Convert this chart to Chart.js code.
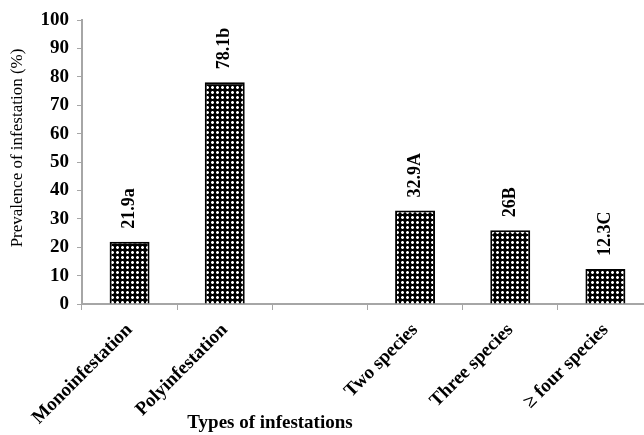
<!DOCTYPE html>
<html>
<head>
<meta charset="utf-8">
<script src="https://cdn.jsdelivr.net/npm/chart.js@4.4.1/dist/chart.umd.min.js"></script>
<style>
  html, body { margin: 0; padding: 0; background: #fff; overflow: hidden; }
  #wrap { width: 655px; height: 435px; }
</style>
</head>
<body>
<div id="wrap"><canvas id="infestation-chart" width="655" height="435"></canvas></div>
<script>
const categories = ['Monoinfestation', 'Polyinfestation', '', 'Two species', 'Three species', '\u2265 four species'];
const prevalence = [21.9, 78.1, null, 32.9, 26, 12.3];
const letters = ['a', 'b', '', 'A', 'B', 'C'];
const yTicks = [0, 10, 20, 30, 40, 50, 60, 70, 80, 90, 100];

const serif = '"Liberation Serif", "Times New Roman", serif';
const axisGrey = '#a6a6a6';

// dotted fill like the excel pattern
function makeDots() {
    const tile = document.createElement('canvas');
    tile.width = 5;
    tile.height = 5;
    const t = tile.getContext('2d');
    t.fillStyle = '#000';
    t.fillRect(0, 0, 5, 5);
    t.fillStyle = '#fff';
    t.fillRect(1, 1, 3, 3);
    t.fillStyle = '#777';
    t.fillRect(1, 1, 1, 1);
    t.fillRect(3, 1, 1, 1);
    t.fillRect(1, 3, 1, 1);
    t.fillRect(3, 3, 1, 1);
    return t.createPattern(tile, 'repeat');
}

const ctx = document.getElementById('infestation-chart');
const dots = makeDots();

const barLabels = {
    id: 'barLabels',
    afterDatasetsDraw(chart) {
        const c = chart.ctx;
        const meta = chart.getDatasetMeta(0);
        c.save();
        c.fillStyle = '#000';
        c.font = 'bold 18px ' + serif;
        c.textAlign = 'left';
        c.textBaseline = 'middle';
        meta.data.forEach((bar, i) => {
            if (prevalence[i] == null) return;
            c.save();
            c.translate(bar.x, bar.y - 13);
            c.rotate(-Math.PI / 2);
            c.fillText(prevalence[i] + letters[i], 0, 0);
            c.restore();
        });
        c.restore();
    }
};

const titles = {
    id: 'titles',
    afterDraw(chart) {
        const c = chart.ctx;
        c.save();
        c.fillStyle = '#000';
        c.textAlign = 'center';
        c.textBaseline = 'middle';
        c.font = 'bold 19px ' + serif;
        c.fillText('Types of infestations', 270, 423);
        c.translate(18, 148);
        c.rotate(-Math.PI / 2);
        c.font = '17px ' + serif;
        c.fillText('Prevalence of infestation (%)', 0, 0);
        c.restore();
    }
};

new Chart(ctx, {
    type: 'bar',
    data: {
        labels: categories,
        datasets: [{
            label: 'Prevalence',
            data: prevalence,
            backgroundColor: dots,
            borderColor: '#000',
            borderWidth: 2,
            categoryPercentage: 1,
            barPercentage: 0.42
        }]
    },
    options: {
        responsive: false,
        animation: false,
        layout: { padding: { top: 20, right: 2, left: 0, bottom: 0 } },
        plugins: {
            legend: { display: false },
            tooltip: { enabled: false }
        },
        scales: {
            x: {
                afterFit: scale => { scale.height = 131; },
                grid: {
                    display: true,
                    drawOnChartArea: false,
                    offset: true,
                    tickLength: 6,
                    color: axisGrey
                },
                border: { color: axisGrey, width: 2 },
                ticks: {
                    color: '#000',
                    font: { family: serif, size: 19, weight: 'bold' },
                    minRotation: 45,
                    maxRotation: 45,
                    padding: 9,
                    autoSkip: false
                }
            },
            y: {
                min: 0,
                max: 100,
                afterFit: scale => { scale.width = 82; },
                afterBuildTicks: scale => { scale.ticks = yTicks.map(v => ({ value: v })); },
                grid: {
                    display: true,
                    drawOnChartArea: false,
                    tickLength: 5,
                    color: axisGrey
                },
                border: { color: axisGrey, width: 2 },
                ticks: {
                    color: '#000',
                    font: { family: serif, size: 19, weight: 'bold' },
                    padding: 8
                }
            }
        }
    },
    plugins: [barLabels, titles]
});
</script>
</body>
</html>
